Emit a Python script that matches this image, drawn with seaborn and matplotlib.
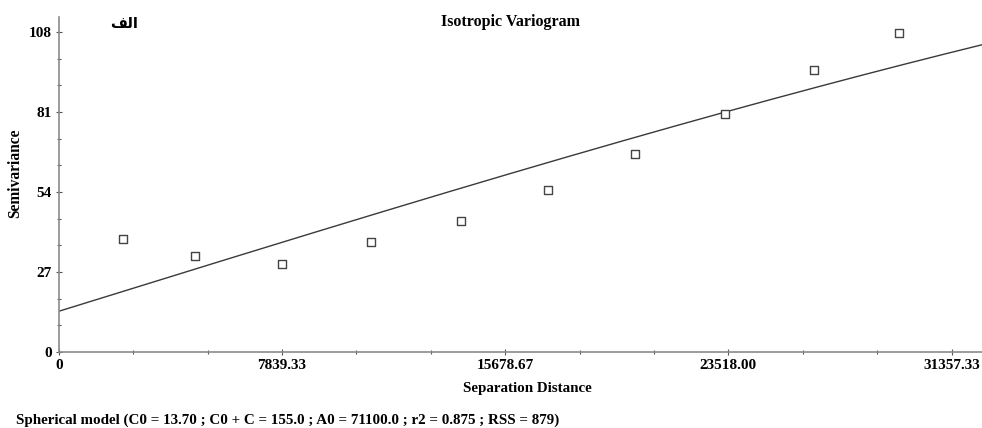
import numpy as np
import pandas as pd
import seaborn as sns
import matplotlib
matplotlib.use('Agg')
import matplotlib.pyplot as plt
from matplotlib.ticker import MultipleLocator, FixedLocator

# --- data ---
lag_distance = [2249, 4777, 7839, 10958, 14136, 17196, 20222, 23386, 26518, 29520]
semivariance = [38.0, 32.5, 29.5, 37.2, 44.2, 54.7, 66.8, 80.3, 95.2, 107.8]

# spherical model parameters (from the caption)
c0 = 13.70
c0_plus_c = 155.0
a0 = 71100.0

x_ticks = [0, 7839.33, 15678.67, 23518.00, 31357.33]
x_tick_labels = ['0', '7839.33', '15678.67', '23518.00', '31357.33']
y_ticks = [0, 27, 54, 81, 108]

caption = 'Spherical model (C0 = 13.70 ; C0 + C = 155.0 ; A0 = 71100.0 ; r2 = 0.875 ; RSS = 879)'


def spherical(h):
    r = np.clip(h / a0, 0, 1)
    return c0 + (c0_plus_c - c0) * (1.5 * r - 0.5 * r ** 3)


sns.set_theme(style="white")
plt.rcParams['font.family'] = ['Liberation Serif', 'DejaVu Serif']
plt.rcParams['font.weight'] = 'bold'
plt.rcParams['text.color'] = 'black'
plt.rcParams['axes.labelcolor'] = 'black'
plt.rcParams['xtick.color'] = 'black'
plt.rcParams['ytick.color'] = 'black'

fig = plt.figure(figsize=(9.82, 4.28), dpi=100)
ax = fig.add_axes([0.060, 0.178, 0.945, 0.782])

x_max = 32600
h = np.linspace(0, x_max, 200)
model = pd.DataFrame({'h': h, 'gamma': spherical(h)})
sns.lineplot(data=model, x='h', y='gamma', ax=ax, color='#3a3a3a', lw=1.0)

points = pd.DataFrame({'h': lag_distance, 'gamma': semivariance})
sns.scatterplot(data=points, x='h', y='gamma', ax=ax, marker='s', s=38,
                facecolor='white', edgecolor='#444444', linewidth=1.0, zorder=3)

ax.set_xlim(0, x_max)
ax.set_ylim(0, 113)

ax.xaxis.set_major_locator(FixedLocator(x_ticks))
ax.set_xticklabels(x_tick_labels)
ax.xaxis.set_minor_locator(MultipleLocator(7839.33 / 3))
ax.yaxis.set_major_locator(FixedLocator(y_ticks))
ax.yaxis.set_minor_locator(MultipleLocator(9))

for side in ['top', 'right']:
    ax.spines[side].set_visible(False)
for side in ['left', 'bottom']:
    ax.spines[side].set_color('#8a8a8a')
    ax.spines[side].set_linewidth(1.2)

ax.tick_params(which='both', bottom=True, left=True, direction='inout',
               color='#555555', width=0.8)
ax.tick_params(which='major', length=4, labelsize=11, pad=3)
ax.tick_params(which='minor', length=3)
for lbl in ax.get_xticklabels() + ax.get_yticklabels():
    lbl.set_fontweight('bold')

ax.set_xlabel('Separation Distance', fontsize=10.8, fontweight='bold')
ax.set_ylabel('Semivariance', fontsize=11.2, fontweight='bold')
ax.xaxis.set_label_coords(0.505, -0.09)
ax.yaxis.set_label_coords(-0.038, 0.534)

fig.text(0.52, 0.948, 'Isotropic Variogram', ha='center', va='center',
         fontsize=11.5, fontweight='bold')
# "الف" written with presentation forms so it shows right-to-left and joined
fig.text(0.126, 0.945, '\uFED2\uFEDF\u0627', ha='center', va='center',
         fontsize=10.5, fontweight='bold', family=['DejaVu Sans'])
fig.text(0.016, 0.018, caption, ha='left', va='center', fontsize=10.8,
         fontweight='bold')

fig.savefig('out.png', dpi=100)
